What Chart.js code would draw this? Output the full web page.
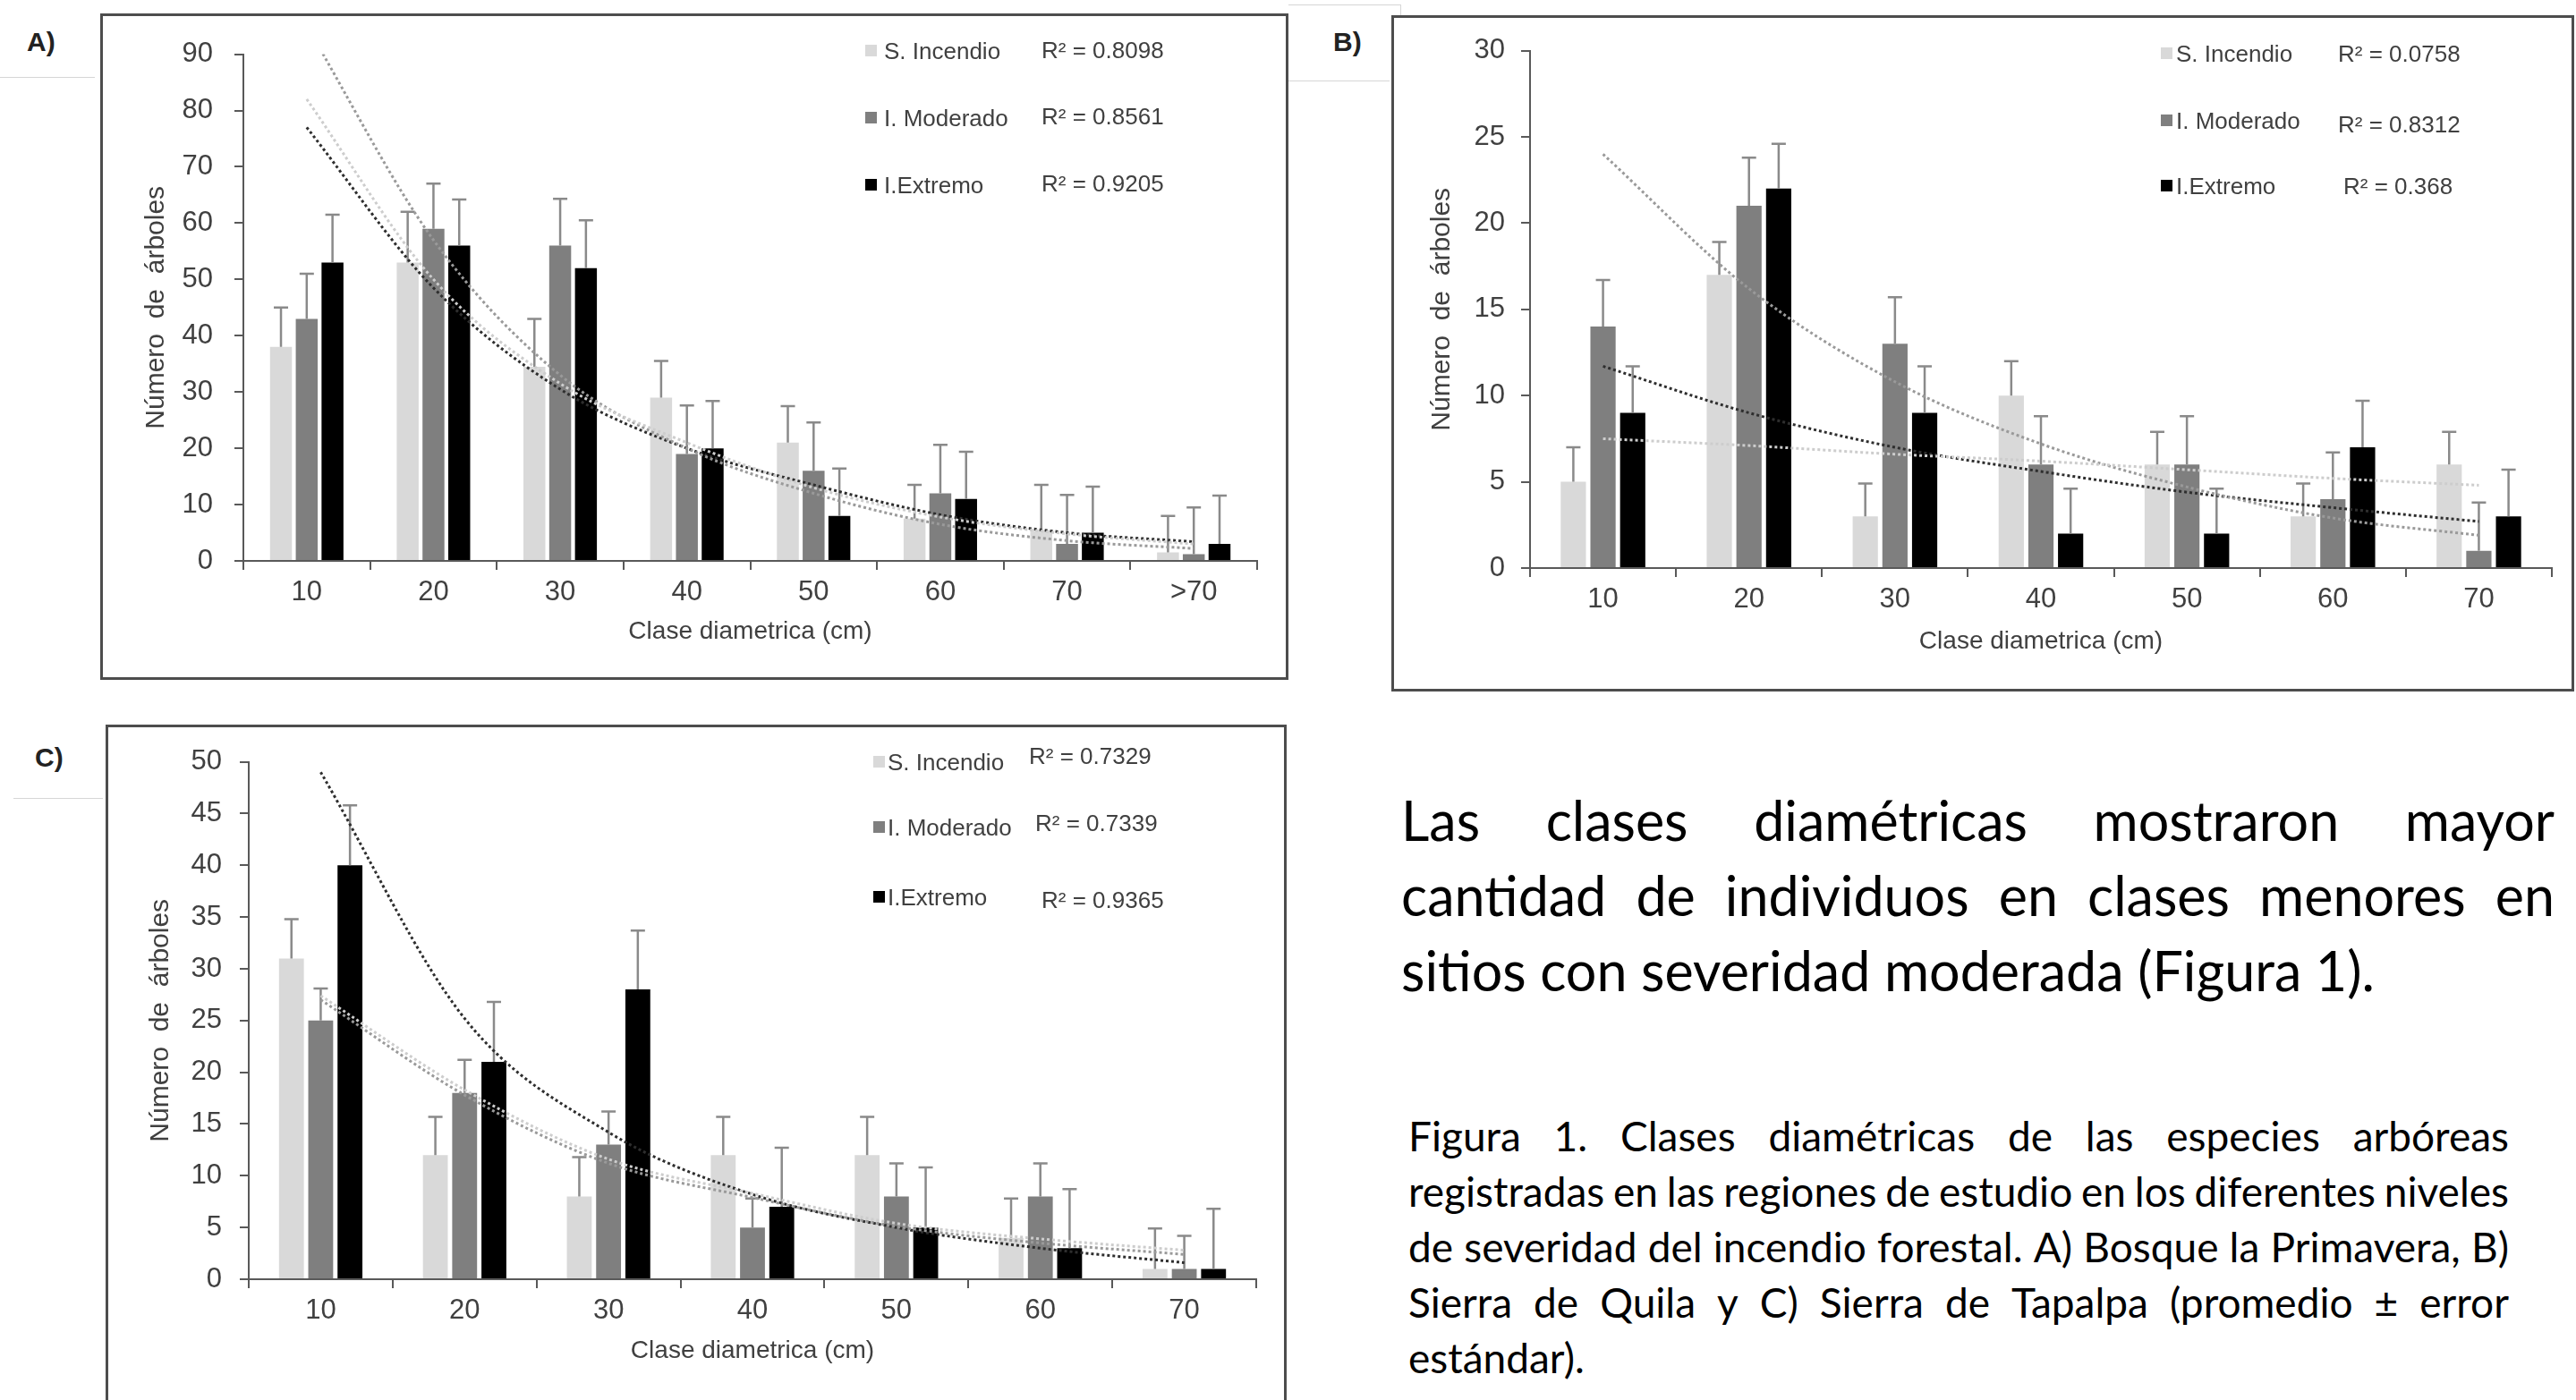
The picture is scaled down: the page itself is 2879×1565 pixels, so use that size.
<!DOCTYPE html>
<html lang="es">
<head>
<meta charset="utf-8">
<title>Clases diamétricas</title>
<script src="https://cdn.jsdelivr.net/npm/chart.js@4.4.1/dist/chart.umd.min.js"></script>
<style>
  html, body { margin: 0; padding: 0; background: #fff; }
  body { width: 2879px; height: 1565px; overflow: hidden; position: relative; font-family: 'Liberation Sans', Arial, sans-serif; }
  .panel { position: absolute; border: 3px solid #4d4d4d; box-sizing: border-box; background: #fff; }
  .panel canvas { position: absolute; left: 0; top: 0; }
  .tag { position: absolute; font: bold 30px 'Liberation Sans', Arial, sans-serif; color: #222; line-height: 34px; }
  .rule { position: absolute; background: #d6d6d6; }
  .leg { position: absolute; font-size: 26px; line-height: 30px; height: 30px; color: #404040; white-space: nowrap; }
  .mark { position: absolute; width: 13px; height: 13px; }
  .txt { position: absolute; font-family: Lato, 'Noto Sans', sans-serif; color: #000; }
  .txt .ln { display: flex; justify-content: space-between; white-space: nowrap; column-gap: 8px; }
  .txt .last { white-space: nowrap; }
</style>
</head>
<body>

<div class="rule" style="left:0; top:86px; width:106px; height:1px;"></div>
<div class="rule" style="left:1440px; top:5px; width:125px; height:1px;"></div>
<div class="rule" style="left:1440px; top:90px; width:113px; height:1px;"></div>
<div class="rule" style="left:1565px; top:5px; width:1px; height:12px;"></div>
<div class="rule" style="left:15px; top:892px; width:100px; height:1px;"></div>

<div class="tag" style="left:30px; top:30px;">A)</div>
<div class="tag" style="left:1490px; top:30px;">B)</div>
<div class="tag" style="left:39px; top:830px;">C)</div>

<div class="panel" style="left:112px; top:15px; width:1328px; height:745px;"><canvas id="chartA" width="1322" height="739"></canvas></div>
<div class="panel" style="left:1555px; top:17px; width:1322px; height:756px;"><canvas id="chartB" width="1316" height="750"></canvas></div>
<div class="panel" style="left:118px; top:810px; width:1320px; height:768px;"><canvas id="chartC" width="1314" height="762"></canvas></div>

<div class="txt" id="parrafo" style="left:1566px; top:875px; width:1289px; font-size:61px; line-height:84px;"></div>
<div class="txt" id="leyenda" style="left:1574px; top:1239px; width:1230px; font-size:46px; line-height:62px;"></div>

<script>
// Categorías (clase diamétrica, cm)
const clasesA = ['10', '20', '30', '40', '50', '60', '70', '>70'];
const clasesBC = ['10', '20', '30', '40', '50', '60', '70'];

const serieNombres = ['S. Incendio', 'I. Moderado', 'I.Extremo'];
const r2A = ['R² = 0.8098', 'R² = 0.8561', 'R² = 0.9205'];
const r2B = ['R² = 0.0758', 'R² = 0.8312', 'R² = 0.368'];
const r2C = ['R² = 0.7329', 'R² = 0.7339', 'R² = 0.9365'];

// A) Bosque la Primavera
const sIncendioA = [38, 53, 34.5, 29, 21, 7.5, 5.5, 1.5];
const sIncendioErrA = [7, 9, 8.5, 6.5, 6.5, 6, 8, 6.5];
const moderadoA = [43, 59, 56, 19, 16, 12, 3, 1.2];
const moderadoErrA = [8, 8, 8.3, 8.6, 8.6, 8.6, 8.7, 8.3];
const extremoA = [53, 56, 52, 20, 8, 11, 5, 3];
const extremoErrA = [8.5, 8.2, 8.5, 8.4, 8.4, 8.4, 8.2, 8.6];
const tendSIncendioA = [82, 50, 31.5, 21, 13, 7.8, 4.8, 3.0];
const tendModeradoA = [95, 57, 33, 20, 12, 6.5, 3.6, 2.2];
const tendExtremoA = [77, 48.5, 30.5, 20, 13.5, 8.2, 5.0, 3.4];

// B) Sierra de Quila
const sIncendioB = [5, 17, 3, 10, 6, 3, 6];
const sIncendioErrB = [2, 1.9, 1.9, 2, 1.9, 1.9, 1.9];
const moderadoB = [14, 21, 13, 6, 6, 4, 1];
const moderadoErrB = [2.7, 2.8, 2.7, 2.8, 2.8, 2.7, 2.8];
const extremoB = [9, 22, 9, 2, 2, 7, 3];
const extremoErrB = [2.7, 2.6, 2.7, 2.6, 2.6, 2.7, 2.7];
const tendSIncendioB = [7.5, 7.1, 6.6, 6.2, 5.7, 5.2, 4.8];
const tendModeradoB = [24, 16.2, 10.8, 7.2, 4.7, 2.9, 1.9];
const tendExtremoB = [11.7, 9.0, 7.0, 5.6, 4.4, 3.5, 2.7];

// C) Sierra de Tapalpa
const sIncendioC = [31, 12, 8, 12, 12, 4, 1];
const sIncendioErrC = [3.8, 3.7, 3.8, 3.7, 3.7, 3.8, 3.9];
const moderadoC = [25, 18, 13, 5, 8, 8, 1];
const moderadoErrC = [3.1, 3.2, 3.2, 2.8, 3.2, 3.2, 3.2];
const extremoC = [40, 21, 28, 7, 5, 3, 1];
const extremoErrC = [5.8, 5.8, 5.7, 5.7, 5.8, 5.7, 5.8];
const tendSIncendioC = [27.4, 18.3, 11.6, 8.3, 5.4, 3.9, 2.8];
const tendModeradoC = [27.0, 17.8, 11.2, 7.9, 5.1, 3.5, 2.4];
const tendExtremoC = [49, 25.2, 14.2, 8.2, 5.0, 3.0, 1.6];

// Texto
const parrafoLineas = [
  'Las clases diamétricas mostraron mayor',
  'cantidad de individuos en clases menores en',
  'sitios con severidad moderada (Figura 1).'
];
const leyendaLineas = [
  'Figura 1. Clases diamétricas de las especies arbóreas',
  'registradas en las regiones de estudio en los diferentes niveles',
  'de severidad del incendio forestal. A) Bosque la Primavera, B)',
  'Sierra de Quila y C) Sierra de Tapalpa (promedio ± error',
  'estándar).'
];

const barColors = ['#d9d9d9', '#7f7f7f', '#000000'];
const trendColors = ['#cdcdcd', '#9a9a9a', '#2e2e2e'];
const textColor = '#404040';
const axisColor = '#595959';
const fontFamily = "'Liberation Sans', Arial, sans-serif";

// error bars drawn right after each bar dataset
const errorBarPlugin = {
  id: 'errorBars',
  afterDatasetDraw(chart, args) {
    const ds = chart.data.datasets[args.index];
    if (!ds.errors) return;
    const yScale = chart.scales.y;
    const ctx = chart.ctx;
    ctx.save();
    ctx.strokeStyle = '#8a8a8a';
    ctx.lineWidth = 2.5;
    args.meta.data.forEach((bar, i) => {
      const top = yScale.getPixelForValue(ds.data[i] + ds.errors[i]);
      ctx.beginPath();
      ctx.moveTo(bar.x, bar.y);
      ctx.lineTo(bar.x, top);
      ctx.moveTo(bar.x - 8, top);
      ctx.lineTo(bar.x + 8, top);
      ctx.stroke();
    });
    ctx.restore();
  }
};

function createDiameterChart(config) {
  const {
    canvasId, labels, bars, errors, trends,
    yMax, yStep, padding, yAxisWidth, xAxisHeight,
    yTickPad, yTitlePad, xTickPad = 7, xTitlePad
  } = config;

  const ctx = document.getElementById(canvasId);
  if (!ctx) return null;

  const barDatasets = bars.map((data, i) => ({
    type: 'bar',
    label: serieNombres[i],
    data,
    errors: errors[i],
    backgroundColor: barColors[i],
    borderWidth: 0,
    categoryPercentage: 0.61,
    barPercentage: 0.85,
    order: 2
  }));

  const trendDatasets = trends.map((data, i) => ({
    type: 'line',
    label: serieNombres[i] + ' tendencia',
    data,
    borderColor: trendColors[i],
    borderWidth: 3,
    borderDash: [3, 3],
    pointRadius: 0,
    fill: false,
    cubicInterpolationMode: 'monotone',
    order: 1
  }));

  return new Chart(ctx, {
    data: {
      labels,
      datasets: [...barDatasets, ...trendDatasets]
    },
    options: {
      responsive: false,
      animation: false,
      layout: { padding },
      plugins: {
        legend: { display: false },
        tooltip: { enabled: false }
      },
      scales: {
        x: {
          type: 'category',
          offset: true,
          grid: {
            display: true,
            offset: true,
            drawOnChartArea: false,
            drawTicks: true,
            tickLength: 10,
            color: axisColor,
            lineWidth: 2
          },
          border: { display: true, color: axisColor, width: 2 },
          ticks: {
            color: textColor,
            font: { family: fontFamily, size: 31 },
            padding: xTickPad,
            maxRotation: 0,
            autoSkip: false
          },
          title: {
            display: true,
            text: 'Clase diametrica (cm)',
            color: textColor,
            font: { family: fontFamily, size: 28 },
            padding: { top: 0, bottom: xTitlePad }
          },
          afterFit: scale => { scale.height = xAxisHeight; }
        },
        y: {
          min: 0,
          max: yMax,
          grid: {
            display: true,
            drawOnChartArea: false,
            drawTicks: true,
            tickLength: 10,
            color: axisColor,
            lineWidth: 2
          },
          border: { display: true, color: axisColor, width: 2 },
          ticks: {
            stepSize: yStep,
            color: textColor,
            font: { family: fontFamily, size: 31 },
            padding: yTickPad
          },
          title: {
            display: true,
            text: 'Número  de  árboles',
            color: textColor,
            font: { family: fontFamily, size: 30 },
            padding: { top: yTitlePad, bottom: 0 }
          },
          afterFit: scale => { scale.width = yAxisWidth; }
        }
      }
    },
    plugins: [errorBarPlugin]
  });
}

createDiameterChart({
  canvasId: 'chartA',
  labels: clasesA,
  bars: [sIncendioA, moderadoA, extremoA],
  errors: [sIncendioErrA, moderadoErrA, extremoErrA],
  trends: [tendSIncendioA, tendModeradoA, tendExtremoA],
  yMax: 90, yStep: 10,
  padding: { left: 40, top: 32, right: 32, bottom: 0 },
  yAxisWidth: 117, xAxisHeight: 130,
  yTickPad: 24, yTitlePad: 2, xTitlePad: 34
});

createDiameterChart({
  canvasId: 'chartB',
  labels: clasesBC,
  bars: [sIncendioB, moderadoB, extremoB],
  errors: [sIncendioErrB, moderadoErrB, extremoErrB],
  trends: [tendSIncendioB, tendModeradoB, tendExtremoB],
  yMax: 30, yStep: 5,
  padding: { left: 34, top: 32, right: 22, bottom: 0 },
  yAxisWidth: 118, xAxisHeight: 135,
  yTickPad: 18, yTitlePad: 2, xTitlePad: 36
});

createDiameterChart({
  canvasId: 'chartC',
  labels: clasesBC,
  bars: [sIncendioC, moderadoC, extremoC],
  errors: [sIncendioErrC, moderadoErrC, extremoErrC],
  trends: [tendSIncendioC, tendModeradoC, tendExtremoC],
  yMax: 50, yStep: 5,
  padding: { left: 40, top: 33, right: 31, bottom: 0 },
  yAxisWidth: 117, xAxisHeight: 145,
  yTickPad: 20, yTitlePad: 1, xTitlePad: 48
});

// Leyendas (posiciones en la página)
function addLegend(r2Labels, markX, textX, rowsY, r2X, r2Y) {
  serieNombres.forEach((name, i) => {
    const mark = document.createElement('div');
    mark.className = 'mark';
    mark.style.left = markX + 'px';
    mark.style.top = (rowsY[i] - 7) + 'px';
    mark.style.background = barColors[i];
    document.body.appendChild(mark);

    const label = document.createElement('div');
    label.className = 'leg';
    label.style.left = textX + 'px';
    label.style.top = (rowsY[i] - 15) + 'px';
    label.textContent = name;
    document.body.appendChild(label);

    const r2 = document.createElement('div');
    r2.className = 'leg';
    r2.style.left = r2X[i] + 'px';
    r2.style.top = (r2Y[i] - 15) + 'px';
    r2.textContent = r2Labels[i];
    document.body.appendChild(r2);
  });
}

addLegend(r2A, 967, 988, [57, 132, 207], [1164, 1164, 1164], [56, 130, 205]);
addLegend(r2B, 2415, 2432, [60, 135, 208], [2613, 2613, 2619], [60, 139, 208]);
addLegend(r2C, 976, 992, [852, 925, 1003], [1150, 1157, 1164], [845, 920, 1006]);

// Texto justificado línea por línea
function fillText(id, lines) {
  const box = document.getElementById(id);
  lines.forEach((line, i) => {
    const div = document.createElement('div');
    if (i < lines.length - 1) {
      div.className = 'ln';
      line.split(' ').forEach(word => {
        const span = document.createElement('span');
        span.textContent = word;
        div.appendChild(span);
      });
    } else {
      div.className = 'last';
      div.textContent = line;
    }
    box.appendChild(div);
  });
}

fillText('parrafo', parrafoLineas);
fillText('leyenda', leyendaLineas);
</script>
</body>
</html>
